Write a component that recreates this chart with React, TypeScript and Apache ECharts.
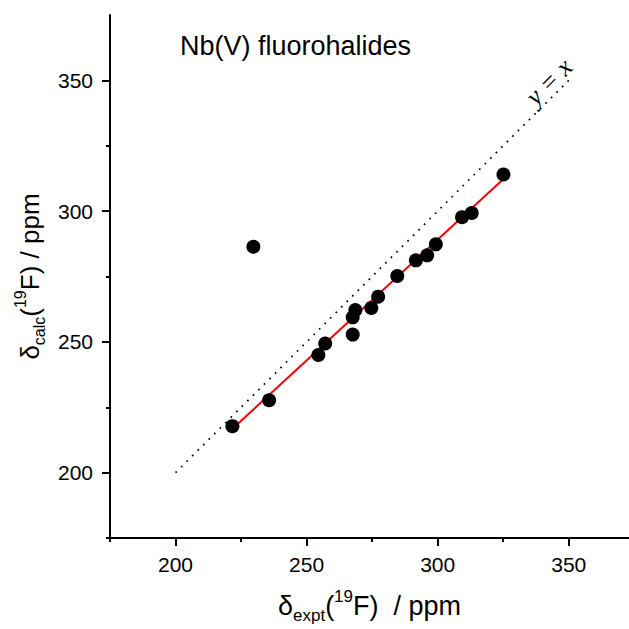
import React, { useEffect, useRef } from "react";
import * as echarts from "echarts";

// Experimental vs calculated 19F shifts (ppm)
const exptShifts = [221.7, 235.7, 229.7, 254.5, 257.1, 267.6, 267.6, 268.6, 274.7, 277.3, 284.6, 291.7, 296.0, 299.3, 309.3, 313.0, 325.1];
const calcShifts = [217.8, 227.7, 286.4, 245.0, 249.4, 252.8, 259.4, 262.2, 263.0, 267.3, 275.2, 281.2, 283.1, 287.3, 297.7, 299.3, 314.0];

// Linear fit end points
const fitX = [221.7, 325.1];
const fitY = [216.8, 312.3];

// y = x reference line
const refX = [200, 350];
const refY = [200, 350];
const refLabelPos = [342.5, 349.5];

const majorTicks = [200, 250, 300, 350];
const minorTicks = [175, 225, 275, 325];

const FONT = "'Liberation Sans', Arial, sans-serif";

function makeRich(size: number, small: number) {
  return {
    n: { fontSize: size, fontFamily: FONT, color: "#000", lineHeight: size * 1.33, verticalAlign: "middle" },
    sub: { fontSize: small, fontFamily: FONT, color: "#000", lineHeight: small, verticalAlign: "bottom" },
    sup: { fontSize: small, fontFamily: FONT, color: "#000", lineHeight: small * 1.65, verticalAlign: "top" },
  };
}

export default function App() {
  const ref = useRef<HTMLDivElement>(null);
  useEffect(() => {
    if (!ref.current) return;
    const chart = echarts.init(ref.current, null, { renderer: "svg" });
    const axisCommon = {
      type: "value",
      min: 175,
      splitLine: { show: false },
    };
    chart.setOption({
      animation: false,
      backgroundColor: "#fff",
      title: {
        text: "Nb(V) fluorohalides",
        left: 180,
        top: 32,
        padding: 0,
        textStyle: { fontSize: 27, fontWeight: "normal", fontFamily: FONT, color: "#000" },
      },
      grid: { left: 110, top: 15, right: 0, bottom: 89, containLabel: false },
      xAxis: [
        {
          ...axisCommon,
          max: 373,
          position: "bottom",
          axisLine: { show: true, lineStyle: { color: "#000", width: 2 } },
          axisTick: { show: true, customValues: majorTicks, length: 8, lineStyle: { color: "#000", width: 2 } },
          axisLabel: { customValues: majorTicks, fontSize: 21, fontFamily: FONT, color: "#000", margin: 16 },
          name: "{n|δ}{sub|expt}{n|(}{sup|19}{n|F)  / ppm}",
          nameLocation: "middle",
          nameGap: 50,
          nameTextStyle: { rich: makeRich(27, 17) },
        },
        {
          ...axisCommon,
          max: 373,
          position: "bottom",
          axisLine: { show: false },
          axisTick: { show: true, customValues: minorTicks, length: 4, lineStyle: { color: "#000", width: 2 } },
          axisLabel: { show: false },
        },
      ],
      yAxis: [
        {
          ...axisCommon,
          max: 375,
          position: "left",
          axisLine: { show: true, lineStyle: { color: "#000", width: 2 } },
          axisTick: { show: true, customValues: majorTicks, length: 8, lineStyle: { color: "#000", width: 2 } },
          axisLabel: { customValues: majorTicks, fontSize: 21, fontFamily: FONT, color: "#000", margin: 17 },
          name: "{n|δ}{sub|calc}{n|(}{sup|19}{n|F) / ppm}",
          nameLocation: "middle",
          nameGap: 58,
          nameTextStyle: { rich: makeRich(26, 16) },
        },
        {
          ...axisCommon,
          max: 375,
          position: "left",
          axisLine: { show: false },
          axisTick: { show: true, customValues: minorTicks, length: 4, lineStyle: { color: "#000", width: 2 } },
          axisLabel: { show: false },
        },
      ],
      series: [
        {
          type: "line",
          data: refX.map((x, i) => [x, refY[i]]),
          symbol: "none",
          lineStyle: { color: "#000", width: 1.7, type: [1.7, 6.1] },
          z: 1,
          silent: true,
        },
        {
          type: "line",
          data: fitX.map((x, i) => [x, fitY[i]]),
          symbol: "none",
          lineStyle: { color: "#ff0000", width: 2 },
          z: 2,
          silent: true,
        },
        {
          type: "scatter",
          data: exptShifts.map((x, i) => [x, calcShifts[i]]),
          symbol: "circle",
          symbolSize: 14,
          itemStyle: { color: "#000", opacity: 1 },
          z: 3,
        },
      ],
    });
    const p = chart.convertToPixel({ gridIndex: 0 }, refLabelPos) as number[];
    chart.setOption({
      graphic: [
        {
          type: "text",
          x: p[0],
          y: p[1],
          rotation: Math.PI / 4,
          z: 10,
          style: {
            text: "y\u2005=\u2005x",
            fill: "#000",
            font: "italic 26px 'Liberation Serif', 'Times New Roman', serif",
            align: "center",
            verticalAlign: "middle",
          },
        },
      ],
    });
    return () => chart.dispose();
  }, []);
  return <div ref={ref} style={{ position: "fixed", left: 0, top: 0, width: 629, height: 629 }} />;
}
